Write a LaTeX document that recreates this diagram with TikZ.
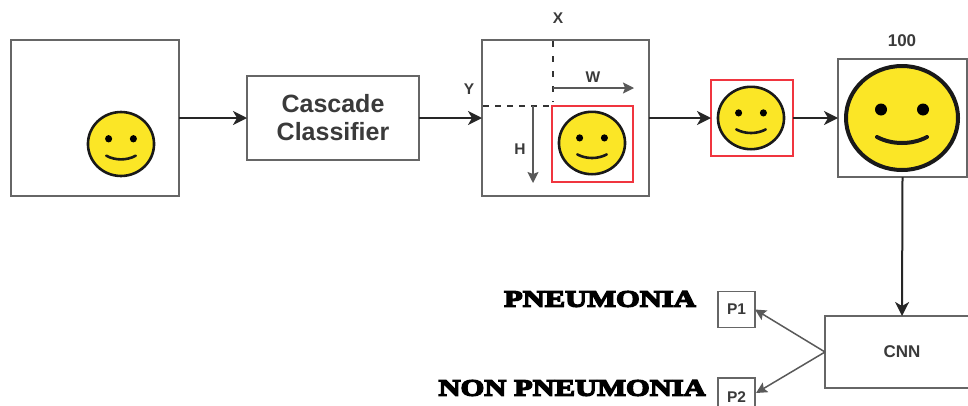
\documentclass[tikz,border=0pt]{standalone}
\usepackage{fontspec}
\usetikzlibrary{arrows.meta}
\setmainfont{Liberation Sans}
\newfontfamily\heavyfont[FakeBold=6,FakeStretch=1.3]{Liberation Serif Bold}
\definecolor{faceyellow}{HTML}{FBE626}
\definecolor{boxline}{HTML}{666666}
\definecolor{inkdark}{HTML}{3A3A3A}
\definecolor{redbox}{HTML}{F0353F}
\tikzset{
  box/.style={draw=boxline,line width=1.4pt,fill=white,inner sep=0pt,outer sep=0pt,align=center,text=inkdark,font=\bfseries},
  redframe/.style={draw=redbox,line width=2pt,inner sep=0pt,outer sep=0pt},
  flow/.style={draw=black!85,line width=2pt,-{Stealth[length=14pt,width=14pt,inset=4pt]}},
  thin arrow/.style={draw=black!65,line width=1.5pt,-{Stealth[length=11pt,width=11pt,inset=2pt]}},
  dashline/.style={draw=black!80,line width=1.8pt,dash pattern=on 6pt off 6pt},
  dashvert/.style={draw=black!80,line width=1.8pt,dash pattern=on 6pt off 9pt},
  lbl/.style={text=inkdark,font=\bfseries\fontsize{15.5}{17}\selectfont,inner sep=0pt},
  heavy/.style={text=black,inner sep=0pt,anchor=east,font=\heavyfont\fontsize{23.5}{25}\selectfont},
  smiley/.pic={
    \draw[draw=black!90,fill=faceyellow,line width=\pgfkeysvalueof{/tikz/facew}] (0,0) ellipse (56 and 52);
    \fill[black] (-21,-8.5) circle (6);
    \fill[black] (21,-8.5) circle (6);
    \draw[black!90,line width=\pgfkeysvalueof{/tikz/facew},line cap=round] (-25,19) .. controls (-10,27) and (10,27) .. (25,19);
  },
  facew/.initial=2.5pt
}
\begin{document}
\begin{tikzpicture}[x=1pt,y=-1pt]
\useasboundingbox (0,0) rectangle (968,405);
\clip (0,0) rectangle (968,405);
% boxes
\node[box,minimum width=168pt,minimum height=156pt] (input) at (95,118) {};
\node[box,minimum width=172pt,minimum height=84pt,font=\bfseries\fontsize{25}{28}\selectfont] (cascade) at (333,118) {Cascade\\Classifier};
\node[box,minimum width=167pt,minimum height=156pt] (located) at (565.5,118) {};
\node[redframe,minimum width=81pt,minimum height=76pt] (inner) at (592.5,144) {};
\node[redframe,minimum width=82pt,minimum height=76pt] (crop) at (752,118) {};
\node[box,minimum width=129pt,minimum height=118pt] (resized) at (902.5,118) {};
\node[box,minimum width=150pt,minimum height=72pt] (cnn) at (900,352) {};
\node[text=inkdark,font=\bfseries\fontsize{17}{19}\selectfont,inner sep=0pt] (cnnlabel) at (902,352) {CNN};
\node[box,minimum width=37pt,minimum height=36pt,font=\bfseries\fontsize{15.5}{17}\selectfont] (p1) at (736.5,309.5) {P1};
\node[box,minimum width=37pt,minimum height=38pt,font=\bfseries\fontsize{15.5}{17}\selectfont] (p2) at (736.5,397) {P2};
% faces
\pic[xscale=0.59,yscale=0.615,facew=2.6pt] at (121,144) {smiley};
\pic[xscale=0.59,yscale=0.6,facew=2.6pt] at (592,143) {smiley};
\pic[xscale=0.59,yscale=0.6,facew=2.6pt] at (751,118) {smiley};
\pic[facew=4pt] at (902,118) {smiley};
% labels
\node[lbl] (xlabel) at (558,18) {X};
\node[lbl] (ylabel) at (469,89) {Y};
\node[lbl] (wlabel) at (593,77) {W};
\node[lbl] (hlabel) at (520,149) {H};
\node[lbl,font=\bfseries\fontsize{17}{19}\selectfont] (size) at (902,41) {100};
\node[heavy] (pn) at (696,299) {PNEUMONIA};
\node[heavy] (npn) at (706,388) {NON PNEUMONIA};
% free ends
\coordinate (xtop) at (553,41);
\coordinate (xbot) at (553,102);
\coordinate (yleft) at (483,106);
\coordinate (yright) at (552,106);
\coordinate (wstart) at (553,88);
\coordinate (wend) at (634,88);
\coordinate (hstart) at (533,106);
\coordinate (hend) at (533,183);
% connectors
\draw[flow] (input.east) -- (cascade.west);
\draw[flow] (cascade.east) -- (located.west);
\draw[flow] (located.east) -- (crop.west);
\draw[flow] (crop.east) -- (resized.west);
\draw[flow] (resized.south) -- (902,316);
\draw[dashvert] (xtop) -- (xbot);
\draw[dashline] (yleft) -- (yright);
\draw[thin arrow] (wstart) -- (wend);
\draw[thin arrow] (hstart) -- (hend);
\draw[thin arrow] (cnn.west) -- (p1.east);
\draw[thin arrow] (cnn.west) -- (756,393);
\end{tikzpicture}
\end{document}
